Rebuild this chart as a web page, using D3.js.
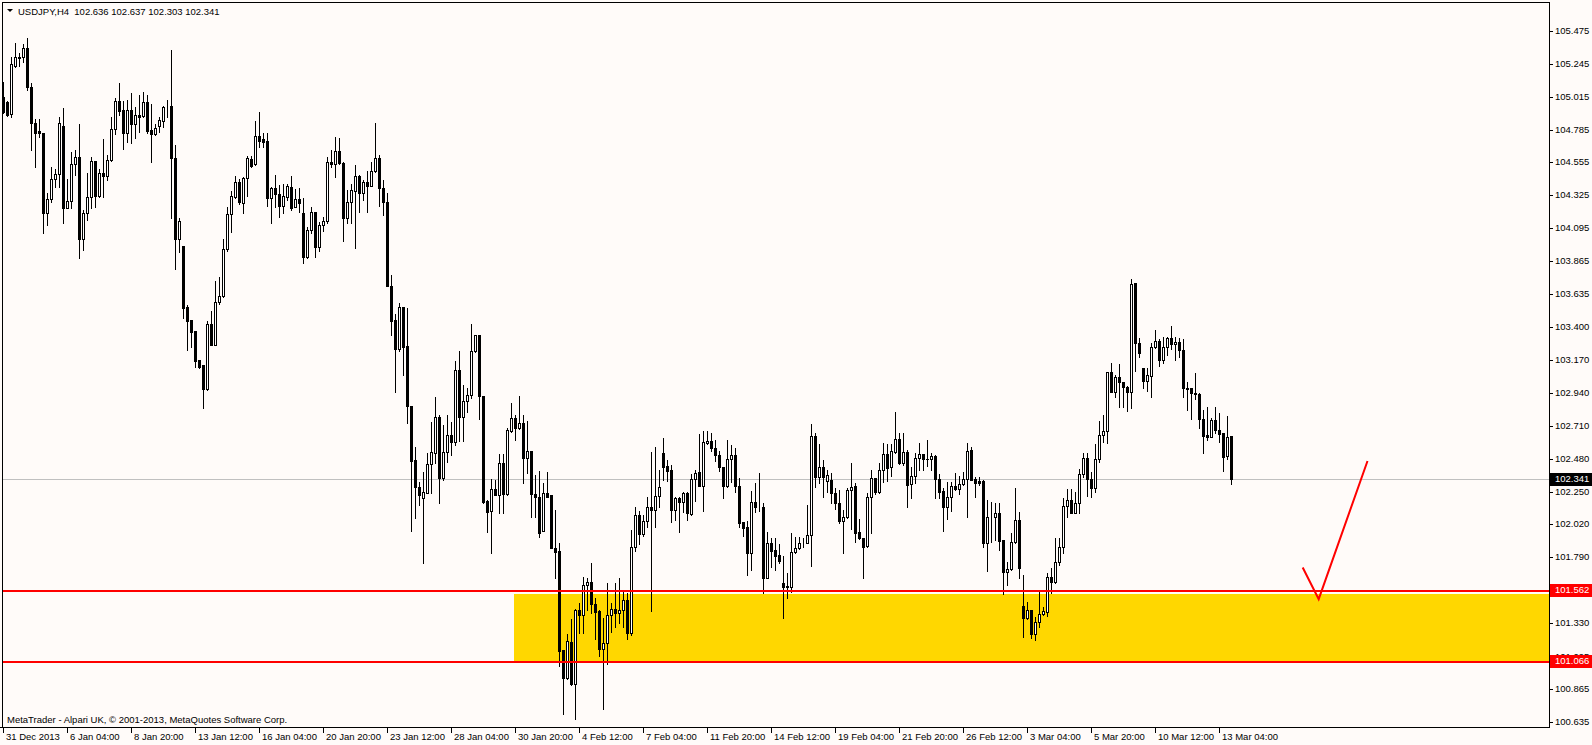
<!DOCTYPE html>
<html><head><meta charset="utf-8">
<script src="https://cdn.jsdelivr.net/npm/d3@7"></script>
<style>
html,body{margin:0;padding:0;background:#fffbf9;overflow:hidden;}
svg{display:block;}
text{font-family:"Liberation Sans",Arial,sans-serif;}
</style></head><body>
<svg id="chart" width="1592" height="745"></svg>
<script>
const symbolTitle = "USDJPY,H4";
const headerOHLC = ["102.636","102.637","102.303","102.341"];
const copyrightText = "MetaTrader - Alpari UK, \u00a9 2001-2013, MetaQuotes Software Corp.";

const opens = [
105.015,104.980,104.891,105.230,105.284,105.290,105.354,105.085,104.828,104.775,
104.758,104.203,104.296,104.436,104.471,104.810,104.238,104.285,104.541,104.590,
104.021,104.198,104.310,104.565,104.322,104.478,104.462,104.572,104.786,104.985,
104.922,104.763,104.922,104.821,104.887,104.880,104.978,104.782,104.751,104.812,
104.847,104.943,104.950,104.588,104.021,103.970,103.545,103.451,103.374,103.171,
103.136,102.968,103.423,103.274,103.575,103.620,103.946,104.191,104.315,104.420,
104.273,104.443,104.576,104.542,104.740,104.717,104.705,104.308,104.373,104.331,
104.252,104.315,104.380,104.245,104.296,104.198,103.890,104.082,104.205,103.965,
104.117,104.147,104.555,104.542,104.637,104.553,104.163,104.275,104.357,104.462,
104.338,104.415,104.392,104.497,104.583,104.373,104.280,103.692,103.451,103.246,
103.540,103.272,102.849,102.471,102.280,102.203,102.242,102.441,102.518,102.770,
102.347,102.525,102.646,102.600,103.101,102.770,102.884,102.926,103.234,103.346,
102.922,102.184,102.114,102.268,102.226,102.447,102.230,102.674,102.763,102.693,
102.728,102.482,102.534,102.230,102.214,101.976,102.237,102.226,101.852,101.833,
101.140,100.942,101.199,100.902,101.420,101.385,101.595,101.614,101.460,101.416,
101.145,101.192,101.385,101.425,101.402,101.420,101.490,101.262,101.859,102.086,
101.950,102.044,102.139,102.121,102.221,102.517,102.429,102.401,102.121,102.202,
102.174,102.237,102.090,102.338,102.384,102.291,102.587,102.604,102.552,102.506,
102.420,102.289,102.475,102.506,102.289,102.039,102.004,101.822,102.174,102.139,
102.144,101.647,101.887,101.841,101.806,101.607,101.584,101.584,101.824,101.852,
101.887,101.892,101.943,102.639,102.350,102.419,102.326,102.331,102.242,102.167,
102.046,102.069,102.261,102.289,101.964,101.922,101.871,102.209,102.342,102.244,
102.401,102.513,102.419,102.524,102.615,102.452,102.529,102.300,102.359,102.482,
102.513,102.478,102.478,102.499,102.335,102.254,102.139,102.209,102.289,102.265,
102.300,102.335,102.541,102.335,102.324,102.324,101.892,102.069,102.069,102.097,
101.911,101.689,101.705,101.899,102.050,101.448,101.362,101.420,101.250,101.334,
101.390,101.408,101.653,101.618,101.754,101.859,102.148,102.190,102.102,102.167,
102.370,102.482,102.337,102.272,102.475,102.646,102.673,103.084,102.949,103.049,
103.014,102.979,102.944,103.708,103.292,103.112,103.026,103.061,103.259,103.304,
103.171,103.259,103.322,103.280,103.294,103.241,102.972,102.972,102.937,102.930,
102.755,102.646,102.634,102.750,102.680,102.657,102.501,102.636];

const highs = [
105.120,104.987,105.295,105.388,105.319,105.384,105.424,105.109,104.856,104.856,
104.758,104.338,104.525,104.506,104.870,104.933,104.436,104.630,104.642,104.824,
104.222,104.478,104.595,104.565,104.506,104.719,104.607,104.870,105.003,105.113,
104.985,104.992,105.043,104.945,105.027,105.050,105.027,104.964,104.824,104.870,
104.950,104.992,105.342,104.677,104.168,103.970,103.556,103.451,103.374,103.171,
103.136,103.447,103.514,103.727,103.750,104.016,104.245,104.355,104.462,104.436,
104.455,104.600,104.600,104.845,104.906,104.758,104.758,104.380,104.467,104.397,
104.401,104.404,104.460,104.366,104.373,104.303,104.105,104.240,104.210,104.140,
104.175,104.590,104.642,104.735,104.724,104.560,104.362,104.404,104.537,104.467,
104.432,104.495,104.560,104.829,104.607,104.432,104.343,103.767,103.491,103.568,
103.540,103.533,102.849,102.560,102.320,102.390,102.518,102.739,102.910,102.786,
102.716,102.786,102.739,103.164,103.237,102.996,102.973,103.423,103.346,103.346,
102.922,102.191,102.336,102.331,102.513,102.513,102.693,102.868,102.786,102.919,
102.786,102.746,102.534,102.366,102.396,102.307,102.389,102.226,102.121,101.887,
101.140,101.253,101.355,101.425,101.472,101.654,101.647,101.747,101.502,101.420,
101.362,101.612,101.467,101.607,101.642,101.549,101.537,101.981,102.144,102.116,
102.086,102.214,102.529,102.564,102.401,102.622,102.471,102.436,102.214,102.214,
102.249,102.249,102.373,102.401,102.653,102.676,102.676,102.662,102.611,102.536,
102.425,102.611,102.576,102.552,102.342,102.039,102.046,102.256,102.307,102.382,
102.172,101.964,101.922,101.922,101.882,101.799,101.677,101.962,101.934,101.934,
101.922,102.155,102.723,102.657,102.583,102.471,102.401,102.382,102.272,102.261,
102.121,102.272,102.447,102.307,102.055,101.925,102.237,102.401,102.345,102.447,
102.592,102.583,102.583,102.805,102.657,102.657,102.541,102.424,102.517,102.587,
102.515,102.611,102.517,102.506,102.373,102.277,102.319,102.319,102.377,102.359,
102.389,102.587,102.559,102.354,102.354,102.331,102.191,102.179,102.172,102.167,
101.911,101.759,101.962,102.272,102.109,101.665,101.478,101.420,101.374,101.548,
101.443,101.681,101.712,101.927,101.922,102.202,102.265,102.265,102.249,102.405,
102.522,102.522,102.389,102.582,102.744,102.786,103.084,103.147,103.066,103.140,
103.019,102.988,103.736,103.712,103.322,103.112,103.112,103.292,103.381,103.315,
103.334,103.334,103.409,103.334,103.322,103.315,103.019,102.972,103.077,102.940,
102.821,102.844,102.762,102.844,102.797,102.660,102.779,102.637];

const lows = [
104.903,104.880,104.875,105.225,105.230,105.260,105.062,104.642,104.525,104.735,
104.058,104.117,104.280,104.385,104.385,104.128,104.233,104.238,104.467,103.888,
103.942,104.152,104.233,104.245,104.315,104.315,104.432,104.567,104.754,104.887,
104.646,104.700,104.688,104.723,104.770,104.870,104.758,104.560,104.747,104.765,
104.805,104.875,104.168,103.806,103.930,103.463,103.241,103.265,103.120,103.113,
102.833,102.961,103.274,103.274,103.563,103.615,103.937,104.070,104.303,104.264,
104.198,104.320,104.525,104.537,104.665,104.665,104.250,104.133,104.240,104.175,
104.198,104.292,104.222,104.240,104.210,103.848,103.883,104.063,103.895,103.937,
104.077,104.133,104.525,104.455,104.544,104.007,104.133,104.133,103.953,104.210,
104.292,104.210,104.390,104.490,104.250,104.187,103.692,103.346,102.950,103.237,
103.066,102.732,101.976,102.062,102.156,101.750,102.238,102.238,102.448,102.172,
102.331,102.459,102.506,102.576,102.606,102.606,102.810,102.908,103.230,102.756,
102.168,101.969,101.822,102.226,102.102,102.102,102.228,102.670,102.611,102.690,
102.307,102.382,102.074,102.074,101.929,101.976,102.210,101.852,101.647,101.028,
100.690,100.935,100.895,100.660,101.257,101.257,101.420,101.397,101.215,101.098,
100.730,101.042,101.269,101.304,101.332,101.304,101.215,101.245,101.836,101.883,
101.940,102.004,101.416,101.999,102.144,102.331,102.326,102.039,102.051,101.969,
102.109,102.051,102.085,102.186,102.286,102.116,102.582,102.536,102.466,102.396,
102.202,102.284,102.319,102.249,102.004,101.938,101.665,101.700,102.109,102.116,
101.542,101.642,101.724,101.700,101.752,101.362,101.502,101.549,101.820,101.848,
101.860,101.888,101.728,102.279,102.307,102.214,102.249,102.172,102.125,102.027,
101.822,102.065,101.990,101.899,101.920,101.642,101.859,101.962,102.232,102.240,
102.319,102.326,102.359,102.520,102.443,102.436,102.144,102.202,102.307,102.401,
102.401,102.429,102.401,102.202,102.202,101.976,102.055,102.116,102.260,102.230,
102.296,102.074,102.331,102.214,102.296,101.859,101.693,101.894,101.910,101.841,
101.532,101.595,101.700,101.892,101.642,101.233,101.355,101.222,101.210,101.303,
101.385,101.378,101.541,101.612,101.735,101.821,102.069,102.098,102.098,102.100,
102.354,102.218,102.209,102.249,102.459,102.599,102.587,102.949,102.909,102.844,
102.844,102.816,102.832,103.096,103.194,102.977,102.956,102.914,103.255,103.131,
103.147,103.206,103.246,103.171,103.190,102.914,102.821,102.755,102.895,102.692,
102.522,102.611,102.630,102.662,102.599,102.393,102.478,102.303];

const closes = [
104.910,104.887,105.242,105.290,105.295,105.354,105.085,104.828,104.763,104.758,
104.203,104.296,104.436,104.471,104.828,104.238,104.285,104.541,104.595,104.021,
104.198,104.310,104.565,104.322,104.478,104.462,104.572,104.786,104.985,104.917,
104.763,104.922,104.824,104.884,104.875,104.978,104.777,104.751,104.793,104.852,
104.940,104.945,104.588,104.021,104.145,103.538,103.447,103.370,103.166,103.125,
102.968,103.423,103.274,103.575,103.620,103.946,104.191,104.319,104.420,104.280,
104.443,104.588,104.530,104.740,104.707,104.700,104.308,104.373,104.331,104.252,
104.322,104.390,104.233,104.296,104.273,103.890,104.082,104.205,103.965,104.117,
104.147,104.555,104.542,104.637,104.549,104.163,104.275,104.362,104.462,104.338,
104.415,104.392,104.497,104.583,104.373,104.280,103.692,103.447,103.246,103.540,
103.265,102.849,102.466,102.280,102.226,102.250,102.441,102.525,102.770,102.343,
102.525,102.646,102.600,103.101,102.770,102.884,102.926,103.234,103.346,102.922,
102.179,102.105,102.268,102.226,102.447,102.230,102.681,102.763,102.693,102.728,
102.482,102.534,102.230,102.214,101.962,102.237,102.214,101.852,101.829,101.136,
100.942,101.206,100.902,101.420,101.385,101.595,101.614,101.460,101.409,101.145,
101.187,101.385,101.425,101.402,101.420,101.490,101.262,101.859,102.086,101.950,
102.044,102.139,102.121,102.221,102.279,102.424,102.396,102.121,102.202,102.174,
102.237,102.097,102.338,102.377,102.291,102.595,102.604,102.552,102.506,102.420,
102.289,102.475,102.506,102.291,102.032,101.997,101.822,102.174,102.139,102.144,
101.647,101.887,101.836,101.801,101.766,101.584,101.586,101.824,101.852,101.887,
101.892,101.943,102.639,102.350,102.419,102.354,102.366,102.237,102.167,102.046,
102.069,102.261,102.284,101.957,101.922,101.864,102.209,102.342,102.244,102.401,
102.513,102.412,102.534,102.615,102.452,102.529,102.296,102.359,102.482,102.513,
102.475,102.476,102.499,102.335,102.249,102.139,102.209,102.289,102.265,102.300,
102.335,102.536,102.331,102.312,102.312,101.892,102.069,102.071,102.097,101.906,
101.689,101.705,101.899,102.050,101.712,101.366,101.420,101.250,101.334,101.390,
101.413,101.653,101.618,101.754,101.859,102.148,102.190,102.102,102.167,102.370,
102.482,102.337,102.272,102.475,102.646,102.673,103.084,102.949,103.049,103.014,
102.984,102.944,103.701,103.292,103.222,103.026,103.066,103.259,103.304,103.171,
103.259,103.322,103.280,103.294,103.241,102.972,102.970,102.937,102.930,102.755,
102.641,102.634,102.750,102.680,102.652,102.494,102.629,102.341];

const timeLabels = ["31 Dec 2013","6 Jan 04:00","8 Jan 20:00","13 Jan 12:00","16 Jan 04:00",
  "20 Jan 20:00","23 Jan 12:00","28 Jan 04:00","30 Jan 20:00","4 Feb 12:00","7 Feb 04:00",
  "11 Feb 20:00","14 Feb 12:00","19 Feb 04:00","21 Feb 20:00","26 Feb 12:00","3 Mar 04:00",
  "5 Mar 20:00","10 Mar 12:00","13 Mar 04:00"];
const barsPerTimeLabel = 16;

const priceTickLabels = ["105.475","105.245","105.015","104.785","104.555","104.325","104.095",
  "103.865","103.635","103.400","103.170","102.940","102.710","102.480","102.250","102.020",
  "101.790","101.560","101.330","101.095","100.865","100.635"];

const bidPrice = 102.341;
const levelPrices = [101.562, 101.066];
const zoneStartBar = 128;
const zonePrices = [101.53, 101.066];
const checkBars = [324.8, 328.8, 341.0];
const checkPrices = [101.718, 101.497, 102.464];

// ---------- drawing ----------
const W = 1592, H = 745;
const plotLeft = 2, plotRight = 1549, plotTop = 2, plotBottom = 727;
const svg = d3.select("#chart").attr("shape-rendering", "crispEdges");
const bg = "#fffbf9";

const x = d3.scaleLinear().domain([0, closes.length - 1]).range([3.5, 3.5 + 4 * (closes.length - 1)]);
const y = d3.scaleLinear().domain([100.635, 105.475]).range([722.2, 31]);

svg.append("rect").attr("width", W).attr("height", H).attr("fill", bg);

const clip = svg.append("clipPath").attr("id", "plotclip").append("rect")
  .attr("x", plotLeft + 1).attr("y", plotTop + 1)
  .attr("width", plotRight - plotLeft - 1).attr("height", plotBottom - plotTop - 1);
const plot = svg.append("g").attr("clip-path", "url(#plotclip)");

// yellow zone
const zx0 = Math.floor(x(zoneStartBar)) - 1;
const zy0 = Math.round(y(zonePrices[0])), zy1 = Math.round(y(zonePrices[1]));
plot.append("rect").attr("x", zx0).attr("y", zy0).attr("width", plotRight - zx0).attr("height", zy1 - zy0)
  .attr("fill", "#ffd700");

// bid line
const bidY = Math.round(y(bidPrice));
plot.append("line").attr("x1", plotLeft).attr("x2", plotRight)
  .attr("y1", bidY + 0.5).attr("y2", bidY + 0.5).attr("stroke", "#c0c0c0").attr("stroke-width", 1);

// candles
const bars = d3.range(closes.length).map(i => ({
  i, o: opens[i], h: highs[i], l: lows[i], c: closes[i]
}));
const cg = plot.append("g");
bars.forEach(b => {
  const cx = Math.floor(x(b.i));
  const yh = Math.round(y(b.h)), yl = Math.round(y(b.l));
  const yt = Math.round(y(Math.max(b.o, b.c))), yb = Math.round(y(Math.min(b.o, b.c)));
  cg.append("rect").attr("x", cx).attr("y", yh).attr("width", 1).attr("height", Math.max(1, yl - yh + 1)).attr("fill", "#000");
  if (b.c >= b.o) {
    cg.append("rect").attr("x", cx - 1 + 0.5).attr("y", yt + 0.5).attr("width", 2).attr("height", Math.max(0, yb - yt))
      .attr("fill", "#fff").attr("stroke", "#000").attr("stroke-width", 1).attr("shape-rendering", "crispEdges");
  } else {
    cg.append("rect").attr("x", cx - 1).attr("y", yt).attr("width", 3).attr("height", Math.max(1, yb - yt + 1)).attr("fill", "#000");
  }
});

// red level lines
levelPrices.forEach(p => {
  const yy = Math.round(y(p));
  plot.append("rect").attr("x", plotLeft).attr("y", yy).attr("width", plotRight - plotLeft).attr("height", 2).attr("fill", "#ff0000");
});

// check mark (trend lines)
const line = d3.line().x((d, k) => x(checkBars[k])).y((d, k) => y(checkPrices[k]));
plot.append("path").attr("d", line(checkBars)).attr("fill", "none").attr("stroke", "#ff0000")
  .attr("stroke-width", 2).attr("shape-rendering", "auto").attr("stroke-linejoin", "miter");

// frame
const frame = svg.append("g").attr("stroke", "#000").attr("stroke-width", 1);
frame.append("line").attr("x1", plotLeft + 0.5).attr("x2", plotLeft + 0.5).attr("y1", plotTop).attr("y2", plotBottom + 1);
frame.append("line").attr("x1", plotLeft).attr("x2", plotRight + 1).attr("y1", plotTop + 0.5).attr("y2", plotTop + 0.5);
frame.append("line").attr("x1", plotRight + 0.5).attr("x2", plotRight + 0.5).attr("y1", plotTop).attr("y2", plotBottom + 1);
frame.append("line").attr("x1", 0).attr("x2", plotRight + 1).attr("y1", plotBottom + 0.5).attr("y2", plotBottom + 0.5);

// right price axis
const axisG = svg.append("g");
priceTickLabels.forEach(t => {
  const yy = Math.round(y(+t));
  axisG.append("rect").attr("x", plotRight + 1).attr("y", yy).attr("width", 3).attr("height", 1).attr("fill", "#000");
  axisG.append("text").attr("x", 1555).attr("y", yy).attr("dy", "0.35em")
    .attr("font-size", "9.5px").attr("fill", "#000").text(t);
});

function priceBox(p, label, fill) {
  const yy = Math.round(y(p));
  axisG.append("rect").attr("x", plotRight + 1).attr("y", yy - 6).attr("width", W - plotRight - 1).attr("height", 13).attr("fill", fill);
  axisG.append("text").attr("x", 1555).attr("y", yy).attr("dy", "0.35em")
    .attr("font-size", "9.5px").attr("fill", "#fff").text(label);
}
priceBox(bidPrice, headerOHLC[3], "#000");
levelPrices.forEach(p => priceBox(p, p.toFixed(3), "#ff0000"));

// bottom time axis
const tg = svg.append("g");
timeLabels.forEach((t, k) => {
  const cx = Math.floor(x(k * barsPerTimeLabel));
  tg.append("rect").attr("x", cx).attr("y", plotBottom + 1).attr("width", 1).attr("height", 5).attr("fill", "#000");
  tg.append("text").attr("x", cx + 3).attr("y", 740).attr("font-size", "9.5px").attr("fill", "#000").text(t);
});

// header
svg.append("path").attr("d", "M7,9L13,9L10,12Z").attr("fill", "#000").attr("shape-rendering", "auto");
svg.append("text").attr("x", 18).attr("y", 14.5).attr("font-size", "9.5px").attr("fill", "#000")
  .attr("xml:space", "preserve").text(symbolTitle + "  " + headerOHLC.join(" "));

// copyright
svg.append("text").attr("x", 7).attr("y", 723).attr("font-size", "9.5px").attr("fill", "#000").text(copyrightText);
</script>
</body></html>
